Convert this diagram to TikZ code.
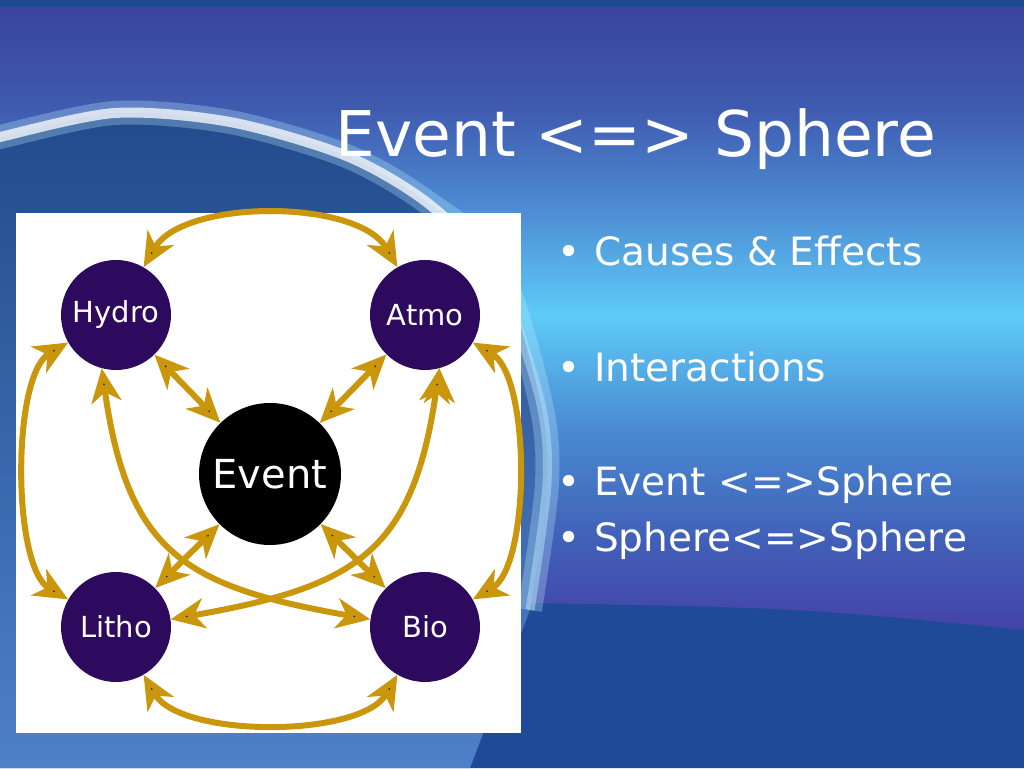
\documentclass[tikz,border=0pt]{standalone}
\usepackage{fontspec}
\setmainfont{DejaVu Sans}
\usetikzlibrary{arrows.meta}

\definecolor{bgtop}{RGB}{29,75,147}
\definecolor{bgpurple}{RGB}{58,68,160}
\definecolor{bgmid}{RGB}{63,91,176}
\definecolor{bgsky}{RGB}{79,146,214}
\definecolor{bglight}{RGB}{94,203,248}
\definecolor{bglow}{RGB}{74,138,210}
\definecolor{bgdusk}{RGB}{65,96,184}
\definecolor{bgviolet}{RGB}{69,64,166}
\definecolor{bgdeep}{RGB}{31,74,152}
\definecolor{globetop}{RGB}{34,74,140}
\definecolor{globebot}{RGB}{78,128,200}
\definecolor{rimglow}{RGB}{190,235,255}
\definecolor{spherepurple}{RGB}{46,10,94}
\definecolor{linkgold}{RGB}{201,150,12}

\begin{document}
\begin{tikzpicture}[x=1pt, y=1pt,
            sphere/.style = {circle,fill=spherepurple,text=white,
                minimum size=110pt,inner sep=0pt,
                font=\fontsize{29}{29}\selectfont},
            core/.style = {sphere,fill=black,minimum size=142pt,
                font=\fontsize{40}{40}\selectfont},
            link/.style = {draw=linkgold,line width=6pt,
                {Stealth[length=34pt,width=30pt,inset=10pt]}-{Stealth[length=34pt,width=30pt,inset=10pt]}},
            listline/.style = {anchor=base west,inner sep=0pt,text=white,
                font=\fontsize{39}{39}\selectfont}]
            \useasboundingbox (0,0) rectangle (1024,768);
            \clip (0,0) rectangle (1024,768);
            % sky
            \fill[bgtop] (0,0) rectangle (1024,768);
            \foreach \ya/\ca/\yb/\cb in {760/bgpurple/658/bgmid,
                    659/bgmid/548/bgsky, 549/bgsky/453/bglight,
                    454/bglight/338/bglow, 339/bglow/228/bgdusk,
                    229/bgdusk/128/bgviolet}
                \shade[top color=\ca,bottom color=\cb] (0,\ya) rectangle (1024,\yb);
            \fill[bgdeep] (0,0) -- (0,170) -- (530,165)
                .. controls (800,160) .. (1024,138) -- (1024,0) -- cycle;
            % globe
            \shade[top color=globetop,bottom color=globebot]
                plot[smooth] coordinates {(-20,625) (0,631) (115,655) (230,646) (344,613)
                (421,570) (497,504) (540,368) (547,285) (530,158)}
                -- (470,0) -- (-20,0) -- cycle;
            \draw[rimglow,line width=24pt,opacity=0.3]
                plot[smooth] coordinates {(-20,625) (0,631) (115,655) (230,646) (344,613)
                (421,570) (497,504) (540,368) (547,285) (530,158)};
            \draw[rimglow,line width=9pt,opacity=0.45]
                plot[smooth] coordinates {(497,504) (540,368) (547,285) (530,158)};
            \draw[white,line width=10pt,opacity=0.75]
                plot[smooth] coordinates {(-20,625) (0,631) (115,655) (230,646) (344,613)
                (421,570) (497,504)};
            % panel
            \fill[white] (16,35) rectangle (521,555);
            \node[core](event) at (270,294) {Event};
            \node[sphere](hydro) at (116,453) {Hydro};
            \node[sphere](atmo) at (425,453) {Atmo};
            \node[sphere](litho) at (116,141) {Litho};
            \node[sphere](bio) at (425,141) {Bio};
            \path[link]
                (hydro) edge[out=60,in=120,looseness=0.8] (atmo)
                (hydro) edge[out=210,in=150,looseness=0.65] (litho)
                (atmo) edge[out=-30,in=30,looseness=0.67] (bio)
                (litho) edge[out=-60,in=-120,looseness=0.74] (bio)
                (hydro.-105) edge[out=-82,in=170,looseness=1.3] (bio.172)
                (atmo.-75) edge[out=-98,in=10,looseness=1.3] (litho.8)
                (hydro) edge (event)
                (atmo) edge (event)
                (litho) edge (event)
                (bio) edge (event);
            % slide text
            \node[anchor=base west,inner sep=0pt,text=white,
                font=\fontsize{63}{63}\selectfont](title) at (335,611) {Event <=> Sphere};
            \node[listline](cause) at (557,502) {\makebox[37pt][l]{•}Causes \& Effects};
            \node[listline](inter) at ([yshift=-116pt]cause.base west)
                {\makebox[37pt][l]{•}Interactions};
            \node[listline](evsp) at ([yshift=-114pt]inter.base west)
                {\makebox[37pt][l]{•}Event <=>Sphere};
            \node[listline](spsp) at ([yshift=-56pt]evsp.base west)
                {\makebox[37pt][l]{•}Sphere<=>Sphere};
        \end{tikzpicture}
\end{document}
